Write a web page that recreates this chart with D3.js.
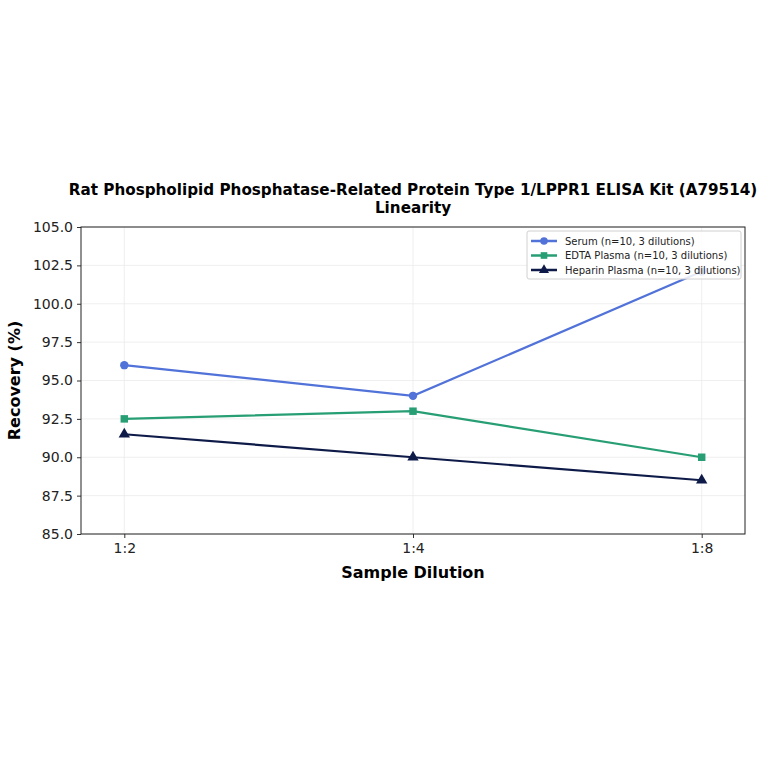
<!DOCTYPE html>
<html>
<head>
<meta charset="utf-8">
<script src="https://cdn.jsdelivr.net/npm/d3@7"></script>
<style>
  html, body { margin: 0; padding: 0; background: #fff; }
  svg text { font-family: "DejaVu Sans", sans-serif; }
</style>
</head>
<body>
<div id="chart"></div>
<script>
const dilutions = ["1:2", "1:4", "1:8"];
const serum = [96.0, 94.0, 102.1];
const edta = [92.5, 93.0, 90.0];
const heparin = [91.5, 90.0, 88.5];
const yTicks = [85, 87.5, 90, 92.5, 95, 97.5, 100, 102.5, 105];
const seriesNames = ["Serum (n=10, 3 dilutions)", "EDTA Plasma (n=10, 3 dilutions)", "Heparin Plasma (n=10, 3 dilutions)"];

const width = 764, height = 764;
const margin = { left: 81, right: 19, top: 227, bottom: 230 };

const svg = d3.select("#chart").append("svg")
    .attr("width", width)
    .attr("height", height);

const x = d3.scaleLinear()
    .domain([-0.15, 2.15])
    .range([margin.left, width - margin.right]);

const y = d3.scaleLinear()
    .domain([85, 105])
    .range([height - margin.bottom, margin.top]);

// grid
svg.append("g")
    .selectAll("line.gy")
    .data(yTicks)
    .enter().append("line")
    .attr("x1", margin.left).attr("x2", width - margin.right)
    .attr("y1", d => y(d)).attr("y2", d => y(d))
    .attr("stroke", "#ebebeb").attr("stroke-width", 0.8);

svg.append("g")
    .selectAll("line.gx")
    .data(dilutions)
    .enter().append("line")
    .attr("x1", (d, i) => x(i)).attr("x2", (d, i) => x(i))
    .attr("y1", margin.top).attr("y2", height - margin.bottom)
    .attr("stroke", "#ebebeb").attr("stroke-width", 0.8);

// axes
const xAxis = d3.axisBottom(x)
    .tickValues([0, 1, 2])
    .tickFormat(i => dilutions[i])
    .tickSize(4).tickPadding(5);
const yAxis = d3.axisLeft(y)
    .tickValues(yTicks)
    .tickFormat(d3.format(".1f"))
    .tickSize(4).tickPadding(4);

const gx = svg.append("g")
    .attr("transform", `translate(0,${height - margin.bottom})`)
    .call(xAxis);
const gy = svg.append("g")
    .attr("transform", `translate(${margin.left},0)`)
    .call(yAxis);
[gx, gy].forEach(g => {
    g.select(".domain").remove();
    g.selectAll("text").style("font-size", "14px").attr("fill", "#222");
    g.selectAll("line").attr("stroke", "#333");
});

// frame
svg.append("rect")
    .attr("x", margin.left).attr("y", margin.top)
    .attr("width", width - margin.left - margin.right)
    .attr("height", height - margin.top - margin.bottom)
    .attr("fill", "none").attr("stroke", "#222").attr("stroke-width", 1);

// series
const series = [
    { name: seriesNames[0], values: serum, color: "#5172d8", symbol: d3.symbolCircle },
    { name: seriesNames[1], values: edta, color: "#279e74", symbol: d3.symbolSquare },
    { name: seriesNames[2], values: heparin, color: "#0e1a48", symbol: d3.symbolTriangle }
];

const line = d3.line()
    .x((d, i) => x(i))
    .y(d => y(d));

series.forEach(s => {
    svg.append("path")
        .datum(s.values)
        .attr("d", line)
        .attr("fill", "none")
        .attr("stroke", s.color)
        .attr("stroke-width", 2.2);
    svg.selectAll(null)
        .data(s.values)
        .enter().append("path")
        .attr("transform", (d, i) => `translate(${x(i)},${y(d)})`)
        .attr("d", d3.symbol().type(s.symbol).size(56))
        .attr("fill", s.color);
});

// legend
const lg = svg.append("g").attr("transform", "translate(527,231)");
lg.append("rect")
    .attr("width", 214).attr("height", 48)
    .attr("rx", 2)
    .attr("fill", "rgba(255,255,255,0.85)")
    .attr("stroke", "#d0d0d0");
series.forEach((s, i) => {
    const yy = 10 + i * 14.5;
    lg.append("line")
        .attr("x1", 4).attr("x2", 30)
        .attr("y1", yy).attr("y2", yy)
        .attr("stroke", s.color).attr("stroke-width", 2.5);
    lg.append("path")
        .attr("transform", `translate(17,${yy})`)
        .attr("d", d3.symbol().type(s.symbol).size(44))
        .attr("fill", s.color);
    lg.append("text")
        .attr("x", 38).attr("y", yy)
        .attr("dy", "0.35em")
        .style("font-size", "10px")
        .attr("fill", "#222")
        .text(s.name);
});

// titles
svg.append("text")
    .attr("x", 413).attr("y", 195)
    .attr("text-anchor", "middle")
    .style("font-size", "15.2px").style("font-weight", "bold")
    .text("Rat Phospholipid Phosphatase-Related Protein Type 1/LPPR1 ELISA Kit (A79514)");
svg.append("text")
    .attr("x", 413).attr("y", 213)
    .attr("text-anchor", "middle")
    .style("font-size", "15.2px").style("font-weight", "bold")
    .text("Linearity");

svg.append("text")
    .attr("x", 413).attr("y", 578)
    .attr("text-anchor", "middle")
    .style("font-size", "16px").style("font-weight", "bold")
    .text("Sample Dilution");

svg.append("text")
    .attr("transform", `translate(20,${(margin.top + height - margin.bottom) / 2}) rotate(-90)`)
    .attr("text-anchor", "middle")
    .style("font-size", "16px").style("font-weight", "bold")
    .text("Recovery (%)");
</script>
</body>
</html>
